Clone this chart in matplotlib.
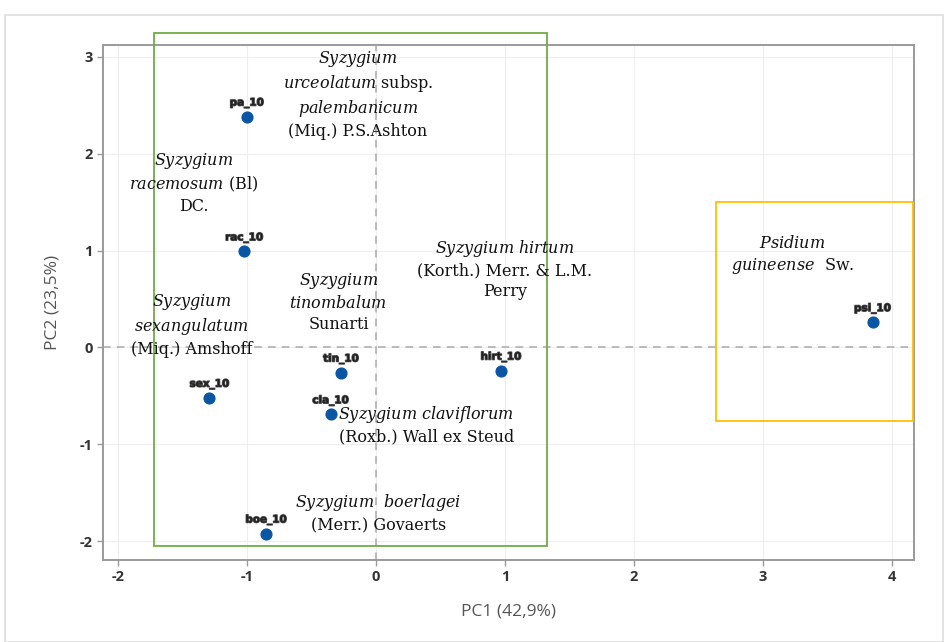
import numpy as np
import matplotlib
matplotlib.use("Agg")
import matplotlib.pyplot as plt
import matplotlib.patheffects as pe
from matplotlib.patches import Rectangle

plt.rcParams['mathtext.fontset'] = 'custom'
plt.rcParams['mathtext.it'] = 'DejaVu Serif:italic'
plt.rcParams['mathtext.rm'] = 'DejaVu Serif'
plt.rcParams['axes.unicode_minus'] = False

# PCA scores
codes = ["pa_10", "rac_10", "sex_10", "tin_10", "cla_10", "hirt_10", "psi_10", "boe_10"]
pc1 = [-1.00, -1.02, -1.29, -0.27, -0.35, 0.97, 3.85, -0.85]
pc2 = [2.38, 0.99, -0.52, -0.26, -0.69, -0.24, 0.26, -1.92]

# species names placed next to the points
name_x = [-0.14, -1.41, 1.00, -0.29, -1.43, 0.39, 0.02, 3.23]
name_y = [2.61, 1.70, 0.81, 0.47, 0.23, -0.80, -1.71, 0.95]
names = [
    "$\\mathit{Syzygium}$\n$\\mathit{urceolatum}$ subsp.\n$\\mathit{palembanicum}$\n(Miq.) P.S.Ashton",
    "$\\mathit{Syzygium}$\n$\\mathit{racemosum}$ (Bl)\nDC.",
    "$\\mathit{Syzygium\\ hirtum}$\n(Korth.) Merr. & L.M.\nPerry",
    "$\\mathit{Syzygium}$\n$\\mathit{tinombalum}$\nSunarti",
    "$\\mathit{Syzygium}$\n$\\mathit{sexangulatum}$\n(Miq.) Amshoff",
    "$\\mathit{Syzygium\\ claviflorum}$\n(Roxb.) Wall ex Steud",
    "$\\mathit{Syzygium\\ \\ boerlagei}$\n(Merr.) Govaerts",
    "$\\mathit{Psidium}$\n$\\mathit{guineense}$  Sw.",
]

# cluster boxes: (x0, y0, x1, y1)
groups = [(-1.72, -2.05, 1.33, 3.24), (2.64, -0.76, 4.16, 1.505)]
group_colors = ["#70ad47", "#ffc000"]

fig = plt.figure(figsize=(9.44, 6.42), dpi=100)
ax = fig.add_axes([0.109, 0.128, 0.859, 0.802])

# light frame round the whole figure
fig.patches.append(Rectangle((5 / 944, 0), 938 / 944, 627 / 642, transform=fig.transFigure,
                             fill=False, edgecolor="#dddddd", lw=1.2))

ax.set_xlim(-2.116, 4.17)
ax.set_ylim(-2.19, 3.12)
ax.set_xticks(range(-2, 5))
ax.set_yticks(range(-2, 4))
ax.grid(True, color="#eeeeee", lw=0.8)
ax.set_axisbelow(True)
ax.axhline(0, color="#aaaaaa", ls=(0, (5, 4)), lw=1.1, zorder=1)
ax.axvline(0, color="#aaaaaa", ls=(0, (5, 4)), lw=1.1, zorder=1)

for s in ax.spines.values():
    s.set_color("#9a9a9a")
    s.set_linewidth(1.4)
ax.tick_params(colors="#9a9a9a", length=4, width=1)
for lab in ax.get_xticklabels() + ax.get_yticklabels():
    lab.set_color("#333333")
    lab.set_fontfamily("Open Sans")
    lab.set_fontweight("bold")
    lab.set_fontsize(10.5)

ax.set_xlabel("PC1 (42,9%)", family="Open Sans", fontsize=12.5, color="#555555", labelpad=14)
ax.set_ylabel("PC2 (23,5%)", family="Open Sans", fontsize=12.5, color="#555555", labelpad=14)

ax.scatter(pc1, pc2, s=60, color="#0b56a4", zorder=4)
for c, x, y in zip(codes, pc1, pc2):
    ax.annotate(c, (x, y), xytext=(0, 8), textcoords="offset points", ha="center",
                fontsize=7.5, fontweight="bold", color="#222222", zorder=5,
                path_effects=[pe.withStroke(linewidth=1.0, foreground="#555555")])

for t, x, y in zip(names, name_x, name_y):
    ax.text(x, y, t, ha="center", va="center", multialignment="center",
            family="DejaVu Serif", fontsize=11.5, linespacing=1.28, color="#111111", zorder=6)

for (x0, y0, x1, y1), col in zip(groups, group_colors):
    ax.add_patch(Rectangle((x0, y0), x1 - x0, y1 - y0, fill=False, edgecolor=col,
                           lw=1.3, clip_on=False, zorder=3))

fig.savefig("out.png", dpi=100)
